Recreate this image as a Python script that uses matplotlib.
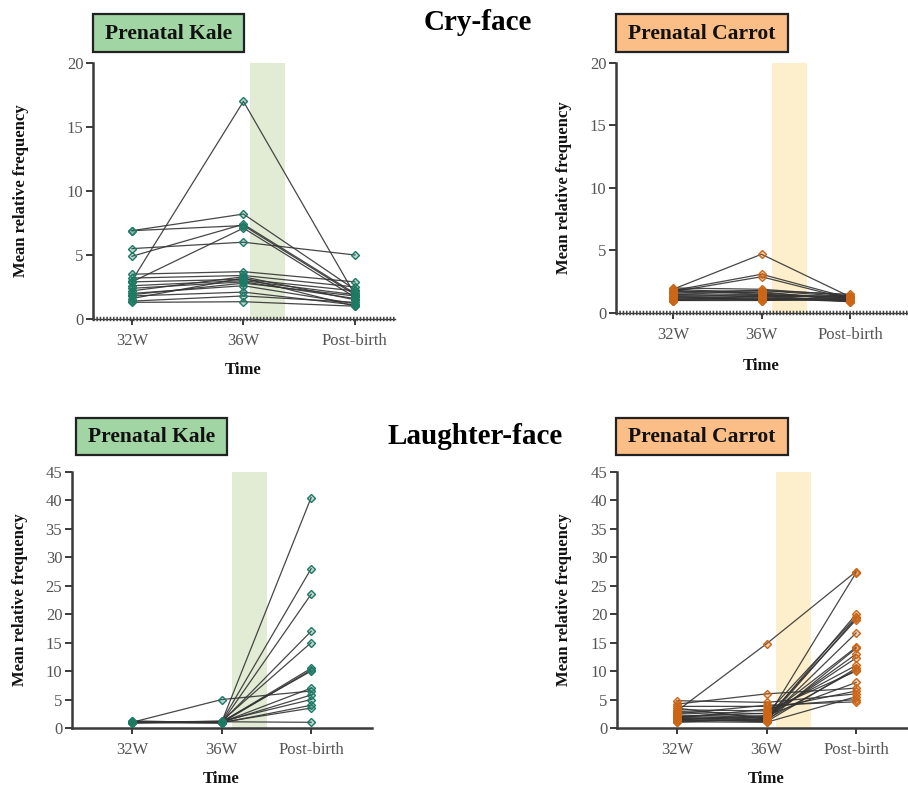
import matplotlib
matplotlib.use("Agg")
import matplotlib.pyplot as plt
from matplotlib.patches import Rectangle

plt.rcParams['font.family'] = ['Liberation Serif', 'DejaVu Serif']

time_labels = ["32W", "36W", "Post-birth"]

# Cry-face, Prenatal Kale
cry_kale_32 = [3.0, 6.9, 6.9, 5.5, 4.9, 2.9, 3.5, 3.2, 2.9, 2.6, 2.4, 2.2, 2.0, 1.9, 1.8, 1.6, 1.4, 1.3]
cry_kale_36 = [17.0, 8.2, 7.3, 6.0, 7.4, 7.1, 3.7, 3.4, 3.1, 3.0, 2.9, 3.3, 2.6, 2.8, 2.1, 3.2, 1.8, 1.35]
cry_kale_pb = [1.9, 2.3, 1.9, 5.0, 2.0, 1.7, 2.9, 2.5, 2.2, 1.9, 1.6, 1.5, 1.2, 1.8, 1.1, 1.0, 1.3, 1.0]

# Cry-face, Prenatal Carrot
cry_carrot_32 = [1.9, 1.8, 1.7, 2.0, 1.6, 1.5, 1.9, 1.4, 1.3, 1.2, 1.1, 1.0, 1.0, 1.8, 1.5, 1.2, 1.7, 1.1, 1.3, 1.0]
cry_carrot_36 = [4.7, 3.1, 2.9, 1.9, 1.8, 1.7, 1.6, 1.5, 1.4, 1.3, 1.2, 1.1, 1.0, 1.5, 1.3, 1.2, 1.8, 1.1, 1.0, 1.4]
cry_carrot_pb = [1.3, 1.2, 1.1, 1.4, 1.5, 1.0, 1.2, 1.1, 1.3, 1.0, 0.9, 1.0, 1.1, 1.2, 1.4, 1.0, 1.3, 1.2, 1.1, 0.9]

# Laughter-face, Prenatal Kale
laugh_kale_32 = [1.0, 1.1, 0.9, 1.0, 1.2, 1.0, 0.9, 1.1, 1.0, 1.0, 1.2, 0.9, 1.0, 1.1, 1.0]
laugh_kale_36 = [5.0, 1.0, 1.1, 0.9, 1.0, 1.2, 1.0, 0.9, 1.1, 1.0, 1.0, 1.2, 0.9, 1.0, 1.1]
laugh_kale_pb = [6.5, 40.5, 28.0, 23.5, 17.0, 15.0, 10.5, 10.2, 10.0, 7.0, 5.8, 5.0, 4.0, 3.5, 1.0]

# Laughter-face, Prenatal Carrot
laugh_carrot_32 = [3.0, 4.8, 4.2, 3.8, 3.5, 3.2, 2.9, 2.7, 2.5, 2.3, 2.1, 2.0, 1.9, 1.8, 1.7, 1.6, 1.5, 1.4, 1.3, 1.2, 1.1, 1.0]
laugh_carrot_36 = [14.8, 4.5, 6.0, 3.8, 1.6, 3.0, 2.5, 2.0, 4.0, 1.8, 1.5, 2.6, 1.4, 3.3, 1.2, 1.9, 1.1, 2.2, 1.3, 1.5, 1.0, 1.7]
laugh_carrot_pb = [27.5, 6.0, 7.0, 5.0, 27.3, 10.0, 19.5, 14.2, 4.6, 19.0, 20.0, 11.0, 16.7, 6.5, 14.0, 12.3, 10.5, 8.0, 19.3, 10.2, 5.5, 13.0]

KALE_MK = '#1d7a64'
CARROT_MK = '#cc6616'
KALE_BAND = '#e2ecd5'
CARROT_BAND = '#fdefcb'
KALE_BOX = '#a2d5a4'
CARROT_BOX = '#fbbe86'
AX_COL = '#3a3a3a'

W, H = 908, 789
fig = plt.figure(figsize=(W / 100, H / 100), dpi=100)


def px_axes(l, r, top, bottom):
    return fig.add_axes([l / W, 1 - bottom / H, (r - l) / W, (bottom - top) / H])


panels = [
    dict(rect=(93, 395, 63, 319), xlim=(-0.35, 2.36), ymax=20, step=5, band=(1.06, 1.37),
         data=(cry_kale_32, cry_kale_36, cry_kale_pb), mk=KALE_MK, bandc=KALE_BAND, dashed=True,
         ylab_x=21, time_y=370),
    dict(rect=(616, 908, 63, 313), xlim=(-0.644, 2.655), ymax=20, step=5, band=(1.12, 1.51),
         data=(cry_carrot_32, cry_carrot_36, cry_carrot_pb), mk=CARROT_MK, bandc=CARROT_BAND, dashed=True,
         ylab_x=564, time_y=366),
    dict(rect=(72, 372, 472, 728), xlim=(-0.67, 2.68), ymax=45, step=5, band=(1.12, 1.51),
         data=(laugh_kale_32, laugh_kale_36, laugh_kale_pb), mk=KALE_MK, bandc=KALE_BAND, dashed=False,
         ylab_x=20, time_y=779),
    dict(rect=(617, 908, 472, 728), xlim=(-0.67, 2.58), ymax=45, step=5, band=(1.11, 1.50),
         data=(laugh_carrot_32, laugh_carrot_36, laugh_carrot_pb), mk=CARROT_MK, bandc=CARROT_BAND, dashed=False,
         ylab_x=564, time_y=779),
]

for p in panels:
    l, r, t, b = p['rect']
    ax = px_axes(l, r, t, b)
    ax.set_xlim(*p['xlim'])
    ax.set_ylim(0, p['ymax'])
    ax.axvspan(p['band'][0], p['band'][1], ymin=0, ymax=1, color=p['bandc'], lw=0, zorder=0)
    xs = [0, 1, 2]
    d32, d36, dpb = p['data']
    for a, bb, c in zip(d32, d36, dpb):
        ax.plot(xs, [a, bb, c], color='#333333', lw=0.9, alpha=0.9, zorder=2)
    for a, bb, c in zip(d32, d36, dpb):
        ax.plot(xs, [a, bb, c], ls='none', marker='D', ms=4.5, mec=p['mk'], mew=1.0,
                mfc=matplotlib.colors.to_rgba(p['mk'], 0.3), zorder=3, clip_on=False)
    for s in ['top', 'right']:
        ax.spines[s].set_visible(False)
    ax.spines['left'].set_color(AX_COL)
    ax.spines['left'].set_linewidth(1.8)
    ax.spines['bottom'].set_color(AX_COL)
    if p['dashed']:
        ax.spines['bottom'].set_linewidth(1.0)
        ax.axhline(0, color='#444444', lw=3.2, dashes=(0.35, 0.4), zorder=4, clip_on=False)
    else:
        ax.spines['bottom'].set_linewidth(1.8)
    ax.set_xticks(xs)
    ax.set_xticklabels(time_labels)
    ax.set_yticks(range(0, p['ymax'] + 1, p['step']))
    ax.tick_params(axis='both', direction='out', colors=AX_COL, labelcolor='#555555', labelsize=12,
                   width=1.4, length=5, pad=2)
    ax.tick_params(axis='x', length=4, pad=6)
    fig.text(p['ylab_x'] / W, 1 - ((t + b) / 2) / H, 'Mean relative frequency', rotation=90,
             ha='center', va='center', fontsize=12, fontweight='bold', color='#111111')
    xc = l + (1 - p['xlim'][0]) / (p['xlim'][1] - p['xlim'][0]) * (r - l)
    fig.text(xc / W, 1 - p['time_y'] / H, 'Time', ha='center', va='center', fontsize=12,
             fontweight='bold', color='#111111')

boxes = [
    (93, 244, 14, 52, 'Prenatal Kale', KALE_BOX),
    (616, 788, 14, 52, 'Prenatal Carrot', CARROT_BOX),
    (76, 227, 418, 455, 'Prenatal Kale', KALE_BOX),
    (616, 788, 418, 455, 'Prenatal Carrot', CARROT_BOX),
]
for l, r, t, b, txt, col in boxes:
    rect = Rectangle((l / W, 1 - b / H), (r - l) / W, (b - t) / H, transform=fig.transFigure,
                     facecolor=col, edgecolor='#222222', lw=1.6)
    fig.patches.append(rect)
    fig.text((l + r) / 2 / W, 1 - ((t + b) / 2 + 1) / H, txt, ha='center', va='center',
             fontsize=15.5, fontweight='bold', color='#111111')

fig.text(478 / W, 1 - 22 / H, 'Cry-face', ha='center', va='center', fontsize=21, fontweight='bold')
fig.text(475 / W, 1 - 437 / H, 'Laughter-face', ha='center', va='center', fontsize=21, fontweight='bold')

fig.savefig('out.png', dpi=100)
